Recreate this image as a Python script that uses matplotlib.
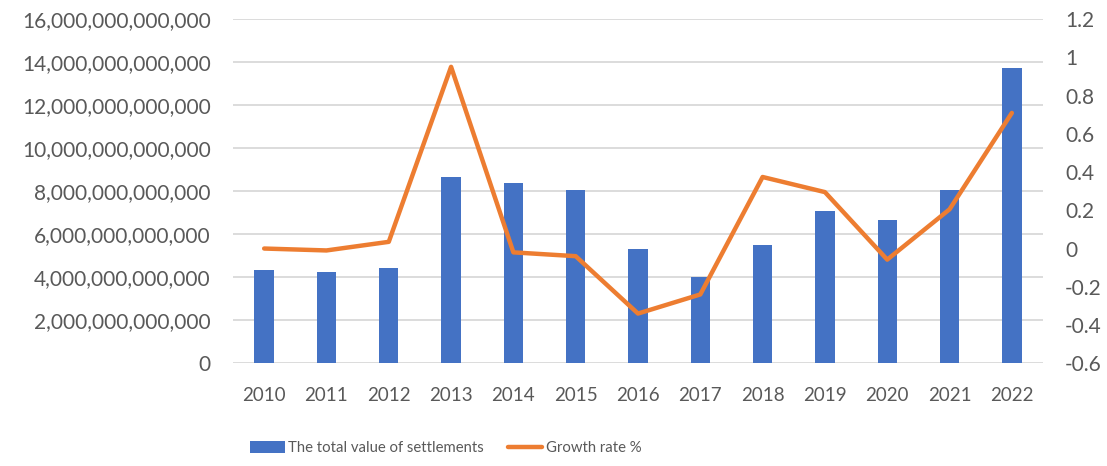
import numpy as np
import matplotlib
matplotlib.use("Agg")
import matplotlib.pyplot as plt
from matplotlib.ticker import FuncFormatter

# data
years = ['2010', '2011', '2012', '2013', '2014', '2015', '2016', '2017', '2018', '2019', '2020', '2021', '2022']
settlements = [4.32e12, 4.26e12, 4.43e12, 8.67e12, 8.39e12, 8.04e12, 5.33e12,
               4.01e12, 5.48e12, 7.08e12, 6.65e12, 8.04e12, 13.71e12]
growth = [0.00, -0.01, 0.035, 0.95, -0.02, -0.04, -0.34,
          -0.24, 0.374, 0.295, -0.058, 0.205, 0.709]
left_ticks = [0, 2e12, 4e12, 6e12, 8e12, 10e12, 12e12, 14e12, 16e12]
right_ticks = [-0.6, -0.4, -0.2, 0, 0.2, 0.4, 0.6, 0.8, 1.0, 1.2]

# styles
matplotlib.rcParams["font.family"] = ["Lato", "DejaVu Sans"]
text_color = '#595959'
bar_color = '#4472C4'
line_color = '#ED7D31'
grid_color = '#D9D9D9'

fig = plt.figure(figsize=(11.07, 4.66), dpi=100)
ax = fig.add_axes([233 / 1107, 1 - 363.3 / 466, 810 / 1107, 344.3 / 466])
ax2 = ax.twinx()

x = np.arange(len(years))
bars = ax.bar(x, settlements, width=0.31, color=bar_color, zorder=2,
              label='The total value of settlements')
line, = ax2.plot(x, growth, color=line_color, linewidth=3.2, solid_joinstyle='round',
                 solid_capstyle='round', label='Growth rate %', zorder=3)

ax.set_xlim(-0.5, len(years) - 0.5)
ax.set_ylim(0, 16e12)
ax.set_yticks(left_ticks)
ax.yaxis.set_major_formatter(FuncFormatter(lambda v, p: f"{int(round(v)):,}"))
ax.yaxis.grid(True, color=grid_color, linewidth=1.3, zorder=0)
ax.set_axisbelow(True)
ax.set_xticks(x)
ax.set_xticklabels(years)

ax2.set_ylim(-0.6, 1.2)
ax2.set_yticks(right_ticks)
ax2.set_yticklabels(['-0.6', '-0.4', '-0.2', '0', '0.2', '0.4', '0.6', '0.8', '1', '1.2'])

for a in (ax, ax2):
    for s in a.spines.values():
        s.set_visible(False)
ax.tick_params(axis='y', length=0, pad=16, labelsize=15, labelcolor=text_color)
ax.tick_params(axis='x', length=0, pad=17, labelsize=13.5, labelcolor=text_color)
ax2.tick_params(axis='y', length=0, pad=16, labelsize=15, labelcolor=text_color)

fig.legend(handles=[bars, line], loc='center left', bbox_to_anchor=(237 / 1107, 1 - 448 / 466),
           ncol=2, frameon=False, fontsize=10.7, labelcolor=text_color,
           handlelength=2.3, handleheight=0.9, handletextpad=0.25, columnspacing=1.6)

fig.savefig('out.png', dpi=100)
